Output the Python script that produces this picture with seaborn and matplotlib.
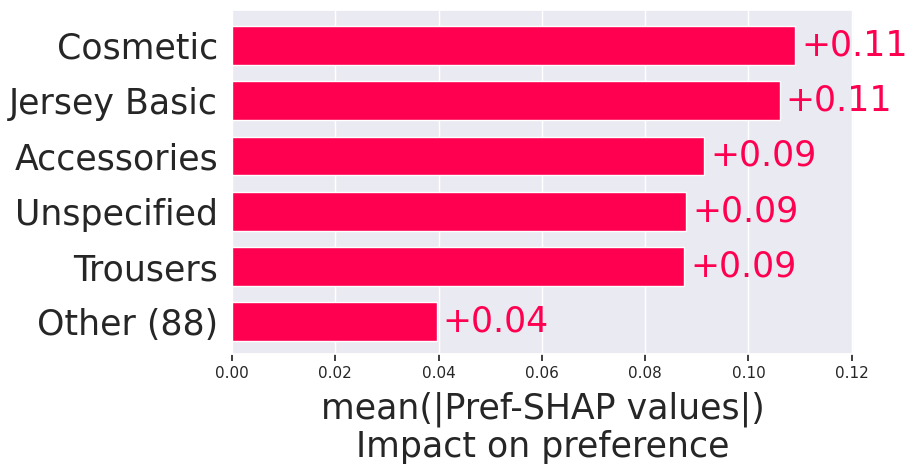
import matplotlib
matplotlib.use("Agg")
import matplotlib.pyplot as plt
import seaborn as sns

# data
categories = ["Cosmetic", "Jersey Basic", "Accessories", "Unspecified", "Trousers", "Other (88)"]
mean_abs_shap = [0.1091, 0.1061, 0.0915, 0.0880, 0.0876, 0.0397]

shap_red = "#FF0051"

sns.set_theme(style="darkgrid")
plt.rcParams["font.family"] = ["DejaVu Sans"]

fig, ax = plt.subplots(figsize=(9.17, 4.75), dpi=100)

sns.barplot(
    x=mean_abs_shap,
    y=categories,
    color=shap_red,
    saturation=1,
    width=0.7,
    orient="h",
    ax=ax
)

# value labels at the end of each bar
for i, v in enumerate(mean_abs_shap):
    ax.annotate(
        f"+{v:.2f}",
        xy=(v, i),
        xytext=(4, 0),
        textcoords="offset points",
        ha="left",
        va="center",
        color=shap_red,
        fontsize=25
    )

ax.set_xlim(0, 0.1204)
ax.set_ylim(5.58, -0.64)
ax.set_xticks([0, 0.02, 0.04, 0.06, 0.08, 0.10, 0.12])

ax.tick_params(axis="y", labelsize=25, length=0, pad=10, labelcolor="#262626")
ax.tick_params(axis="x", labelsize=11, bottom=True, length=5, width=1.25,
               color="#262626", labelcolor="#262626")

ax.set_xlabel("mean(|Pref-SHAP values|)\nImpact on preference", fontsize=25,
              color="#262626", linespacing=1.1, labelpad=8)
ax.set_ylabel("")

plt.subplots_adjust(left=0.253, right=0.931, top=0.979, bottom=0.255)
plt.savefig("out.png", dpi=100)
